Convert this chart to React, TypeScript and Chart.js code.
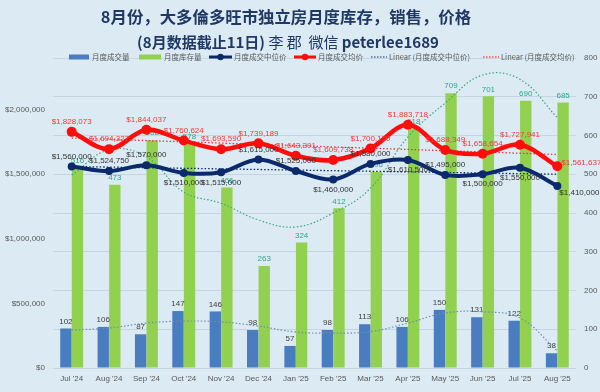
import React, { useEffect, useRef } from "react";
import { Chart, registerables } from "chart.js";

Chart.register(...registerables);

const months = ["Jul '24", "Aug '24", "Sep '24", "Oct '24", "Nov '24", "Dec '24", "Jan '25", "Feb '25", "Mar '25", "Apr '25", "May '25", "Jun '25", "Jul '25", "Aug '25"];
const volume = [102, 106, 87, 147, 146, 98, 57, 98, 113, 106, 150, 131, 122, 38];
const inventory = [516, 473, 588, 578, 466, 263, 324, 412, 506, 618, 709, 701, 690, 685];
const medianPrice = [1560000, 1524750, 1570000, 1510000, 1515000, 1615000, 1525000, 1460000, 1580000, 1610500, 1495000, 1500000, 1550000, 1410000];
const avgPrice = [1828073, 1694327, 1844037, 1760624, 1693590, 1739189, 1643391, 1609738, 1700150, 1883718, 1688349, 1658654, 1727941, 1561637];
const medianLinear = [1560000, 1555400, 1550800, 1546200, 1541600, 1537000, 1532400, 1527800, 1523200, 1518600, 1514000, 1509400, 1504800, 1500200];
const avgLinear = [1780500, 1770700, 1760900, 1751000, 1741200, 1731400, 1721600, 1711800, 1702000, 1692100, 1682300, 1672500, 1662700, 1652800];
const volumeTrend = [98, 103, 116, 121, 119, 108, 93, 90, 94, 116, 142, 145, 129, 44];
const inventoryTrend = [498, 563, 545, 454, 425, 382, 364, 400, 464, 596, 684, 756, 745, 646];
const leftTicks = [0, 500000, 1000000, 1500000, 2000000];
const rightTicks = [0, 100, 200, 300, 400, 500, 600, 700, 800];

const titleLine1 = "8月份，大多倫多旺市独立房月度库存，销售，价格";
const titleLine2 = [
  { t: "(8月数据截止11日) ", bold: true },
  { t: "李 郡  微信 ", bold: false },
  { t: "peterlee1689", bold: true },
];
const legendNames = ["月度成交量", "月度库存量", "月度成交中位价", "月度成交均价", "Linear (月度成交中位价)", "Linear (月度成交均价)"];

const medianLabelPos = ["a", "a", "a", "b", "b", "a", "a", "b", "a", "b", "a", "b", "b", "br"];
const avgLabelPos = ["a", "a", "a", "a", "a", "a", "a", "a", "a", "a", "a", "a", "a", "r"];

const BG = "#DCEBF3";
const NAVY = "#0B2A6B";
const RED = "#FF0D0D";
const BLUE = "#4A7CC0";
const GREEN = "#92D050";
const FONT = "'Liberation Sans', Arial, sans-serif";
const CJK = "'Noto Sans CJK SC', sans-serif";

const money = (v: number) => "$" + v.toLocaleString("en-US");

function drawLabels(chart: any, i: number) {
  const ds: any = chart.data.datasets[i];
  const meta = chart.getDatasetMeta(i);
  const ctx = chart.ctx;
  ctx.save();
  ctx.font = `8px ${FONT}`;
  ctx.fillStyle = ds.labelColor;
  meta.data.forEach((el: any, j: number) => {
    const v = ds.data[j];
    const text = ds.labelFormat ? ds.labelFormat(v) : String(v);
    const pos = ds.labelPos ? ds.labelPos[j] : "a";
    let x = el.x;
    let y = el.y;
    ctx.textBaseline = "middle";
    if (pos === "a") {
      ctx.textAlign = "center";
      y -= ds.labelOffset;
    } else if (pos === "b") {
      ctx.textAlign = "center";
      y += ds.labelOffset;
    } else if (pos === "r") {
      ctx.textAlign = "left";
      x += 4;
      y -= 3;
    } else if (pos === "br") {
      ctx.textAlign = "left";
      x += 2;
      y += 7;
    }
    ctx.fillText(text, x, y);
  });
  ctx.restore();
}

const labelPlugin = {
  id: "valueLabels",
  afterDatasetDraw(chart: any, args: any) {
    const ds: any = chart.data.datasets[args.index];
    if (ds.type === "bar" && ds.labelColor) drawLabels(chart, args.index);
  },
  afterDatasetsDraw(chart: any) {
    chart.data.datasets.forEach((ds: any, i: number) => {
      if (ds.type === "line" && ds.labelColor) drawLabels(chart, i);
    });
  },
};

const bgPlugin = {
  id: "bg",
  beforeDraw(chart: any) {
    const ctx = chart.ctx;
    ctx.save();
    ctx.fillStyle = BG;
    ctx.fillRect(0, 0, chart.width, chart.height);
    ctx.restore();
  },
};

const headerPlugin = {
  id: "header",
  afterDraw(chart: any) {
    const ctx = chart.ctx;
    ctx.save();
    ctx.fillStyle = "#1F3864";
    ctx.textBaseline = "middle";
    ctx.textAlign = "center";
    ctx.font = `bold 16.4px ${CJK}`;
    ctx.fillText(titleLine1, 286, 17);
    let total = 0;
    const widths = titleLine2.map((s) => {
      ctx.font = `${s.bold ? "bold " : ""}15px ${CJK}`;
      const w = ctx.measureText(s.t).width;
      total += w;
      return w;
    });
    let x = 288 - total / 2;
    ctx.textAlign = "left";
    titleLine2.forEach((s, k) => {
      ctx.font = `${s.bold ? "bold " : ""}15px ${CJK}`;
      ctx.fillText(s.t, x, 42);
      x += widths[k];
    });

    const ly = 57;
    const items = [
      { kind: "rect", color: BLUE, x: 69, w: 20, tx: 92 },
      { kind: "rect", color: GREEN, x: 139, w: 22, tx: 164 },
      { kind: "line", color: NAVY, x: 209, w: 23, tx: 234 },
      { kind: "line", color: RED, x: 294, w: 22, tx: 318 },
      { kind: "dot", color: NAVY, x: 371, w: 16, tx: 389 },
      { kind: "dot", color: RED, x: 483, w: 16, tx: 501 },
    ];
    items.forEach((it, k) => {
      ctx.save();
      if (it.kind === "rect") {
        ctx.fillStyle = it.color;
        ctx.fillRect(it.x, ly - 2.5, it.w, 5);
      } else if (it.kind === "line") {
        ctx.strokeStyle = it.color;
        ctx.lineWidth = 3;
        ctx.beginPath();
        ctx.moveTo(it.x, ly);
        ctx.lineTo(it.x + it.w, ly);
        ctx.stroke();
        ctx.fillStyle = it.color;
        ctx.beginPath();
        ctx.arc(it.x + it.w / 2, ly, 3.2, 0, Math.PI * 2);
        ctx.fill();
      } else {
        ctx.strokeStyle = it.color;
        ctx.lineWidth = 1.2;
        ctx.setLineDash([1.5, 1.5]);
        ctx.beginPath();
        ctx.moveTo(it.x, ly);
        ctx.lineTo(it.x + it.w, ly);
        ctx.stroke();
      }
      ctx.restore();
      ctx.fillStyle = "#595959";
      ctx.font = `7.5px ${CJK}`;
      ctx.textAlign = "left";
      ctx.textBaseline = "middle";
      ctx.fillText(legendNames[k], it.tx, ly);
    });
    ctx.restore();
  },
};

export default function App() {
  const ref = useRef<HTMLCanvasElement | null>(null);

  useEffect(() => {
    if (!ref.current) return;
    const chart = new Chart(ref.current, {
      type: "bar",
      data: {
        labels: months,
        datasets: [
          {
            type: "line",
            label: "月度成交均价",
            data: avgPrice,
            yAxisID: "y",
            borderColor: RED,
            backgroundColor: RED,
            borderWidth: 4.5,
            pointRadius: 5,
            pointBorderWidth: 0,
            pointBackgroundColor: RED,
            tension: 0.35,
            order: 0,
            labelColor: "#EE3B3B",
            labelOffset: 10,
            labelPos: avgLabelPos,
            labelFormat: money,
          } as any,
          {
            type: "line",
            label: "月度成交中位价",
            data: medianPrice,
            yAxisID: "y",
            borderColor: NAVY,
            backgroundColor: NAVY,
            borderWidth: 4,
            pointRadius: 4,
            pointBorderWidth: 0,
            pointBackgroundColor: NAVY,
            tension: 0.35,
            order: 1,
            labelColor: "#333333",
            labelOffset: 10,
            labelPos: medianLabelPos,
            labelFormat: money,
          } as any,
          {
            type: "line",
            label: "Linear (月度成交中位价)",
            data: medianLinear,
            yAxisID: "y",
            borderColor: NAVY,
            borderWidth: 1.3,
            borderDash: [1.5, 2],
            pointRadius: 0,
            tension: 0,
            order: 2,
          } as any,
          {
            type: "line",
            label: "Linear (月度成交均价)",
            data: avgLinear,
            yAxisID: "y",
            borderColor: "#E8383D",
            borderWidth: 1.3,
            borderDash: [1.5, 2],
            pointRadius: 0,
            tension: 0,
            order: 3,
          } as any,
          {
            type: "line",
            label: "Poly (月度库存量)",
            data: inventoryTrend,
            yAxisID: "y1",
            borderColor: "#3FA77C",
            borderWidth: 1.2,
            borderDash: [1.5, 2],
            pointRadius: 0,
            tension: 0.4,
            order: 4,
          } as any,
          {
            type: "line",
            label: "Poly (月度成交量)",
            data: volumeTrend,
            yAxisID: "y1",
            borderColor: "#6F8FB0",
            borderWidth: 1.2,
            borderDash: [1.5, 2],
            pointRadius: 0,
            tension: 0.4,
            order: 5,
          } as any,
          {
            type: "bar",
            label: "月度成交量",
            data: volume,
            yAxisID: "y1",
            backgroundColor: BLUE,
            categoryPercentage: 0.62,
            barPercentage: 0.98,
            order: 6,
            labelColor: "#404040",
            labelOffset: 7,
          } as any,
          {
            type: "bar",
            label: "月度库存量",
            data: inventory,
            yAxisID: "y1",
            backgroundColor: GREEN,
            categoryPercentage: 0.62,
            barPercentage: 0.98,
            order: 7,
            labelColor: "#2FA58A",
            labelOffset: 7,
          } as any,
        ],
      },
      options: {
        responsive: false,
        animation: false,
        devicePixelRatio: 1,
        layout: { padding: { top: 58, left: 0, right: 0, bottom: 0 } },
        plugins: {
          legend: { display: false },
          title: { display: false },
          tooltip: { enabled: false },
        },
        scales: {
          x: {
            grid: { display: false, drawTicks: false },
            border: { display: false },
            ticks: {
              color: "#595959",
              font: { size: 8, family: FONT },
              padding: 6,
              maxRotation: 0,
              autoSkip: false,
            },
            afterFit: (s: any) => {
              s.height = 24;
            },
          },
          y: {
            position: "left",
            min: 0,
            max: 2400000,
            grid: { display: false, drawTicks: false },
            border: { display: false },
            ticks: {
              color: "#595959",
              font: { size: 8, family: FONT },
              padding: 8,
              callback: (v: any) => money(Number(v)),
            },
            afterBuildTicks: (s: any) => {
              s.ticks = leftTicks.map((v) => ({ value: v }));
            },
            afterFit: (s: any) => {
              s.width = 53;
            },
          },
          y1: {
            position: "right",
            min: 0,
            max: 800,
            grid: { color: "rgba(150,175,195,0.35)", lineWidth: 1, drawTicks: false },
            border: { display: false },
            ticks: {
              color: "#595959",
              font: { size: 8, family: FONT },
              padding: 8,
            },
            afterBuildTicks: (s: any) => {
              s.ticks = rightTicks.map((v) => ({ value: v }));
            },
            afterFit: (s: any) => {
              s.width = 24;
            },
          },
        },
      },
      plugins: [bgPlugin, labelPlugin, headerPlugin],
    } as any);
    return () => chart.destroy();
  }, []);

  return (
    <div style={{ position: "fixed", left: 0, top: 0, width: 600, height: 392 }}>
      <canvas ref={ref} width={600} height={392} style={{ width: 600, height: 392 }} />
    </div>
  );
}
